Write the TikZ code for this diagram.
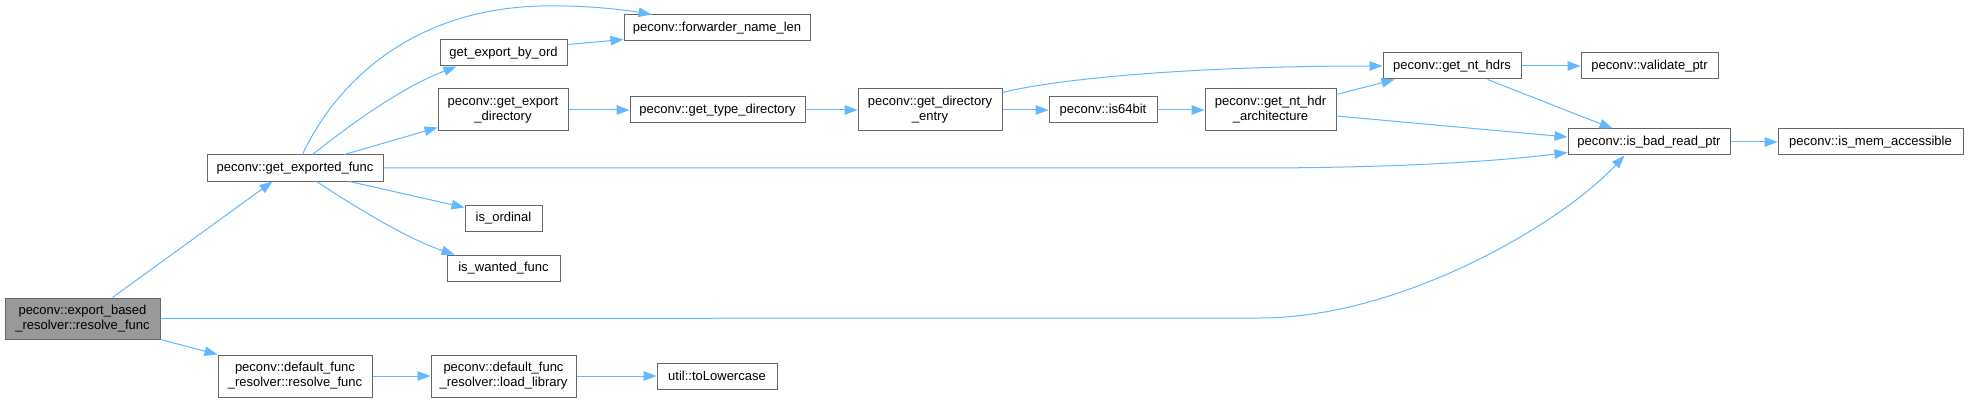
\documentclass[tikz,border=0pt]{standalone}
\usepackage{fontspec}
\setmainfont{Liberation Sans}
\usetikzlibrary{arrows.meta,calc}
\definecolor{edgeblue}{HTML}{63B8FF}
\definecolor{boxgray}{HTML}{666666}
\definecolor{fillgray}{HTML}{999999}
\begin{document}
\begin{tikzpicture}[x=1pt,y=-1pt,
  box/.style={draw=boxgray,fill=white,line width=1pt,inner sep=0pt,align=center,font=\fontsize{13}{15}\selectfont},
  edge/.style={draw=edgeblue,line width=1pt,-{Triangle[length=13pt,width=9.5pt]}}]
\useasboundingbox (0,0) rectangle (1968,401);
\fill[white] (0,0) rectangle (1968,401);
% nodes
\node[box,fill=fillgray,minimum width=155pt,minimum height=41pt] (A) at (82.5,318.5) {peconv::export\_based\\\_resolver::resolve\_func};
\node[box,minimum width=176pt,minimum height=26pt] (B) at (295,168) {peconv::get\_exported\_func};
\node[box,minimum width=186pt,minimum height=26pt] (C) at (717,28) {peconv::forwarder\_name\_len};
\node[box,minimum width=127pt,minimum height=26pt] (D) at (503.5,53) {get\_export\_by\_ord};
\node[box,minimum width=130pt,minimum height=42pt] (E) at (503,110) {peconv::get\_export\\\_directory};
\node[box,minimum width=175pt,minimum height=26pt] (F) at (717.5,110) {peconv::get\_type\_directory};
\node[box,minimum width=144pt,minimum height=42pt] (G) at (930,110) {peconv::get\_directory\\\_entry};
\node[box,minimum width=108pt,minimum height=26pt] (H) at (1103,110) {peconv::is64bit};
\node[box,minimum width=131pt,minimum height=42pt] (I) at (1270.5,110) {peconv::get\_nt\_hdr\\\_architecture};
\node[box,minimum width=138pt,minimum height=26pt] (J) at (1452,66) {peconv::get\_nt\_hdrs};
\node[box,minimum width=137pt,minimum height=26pt] (K) at (1649.5,66) {peconv::validate\_ptr};
\node[box,minimum width=162pt,minimum height=26pt] (L) at (1649,142) {peconv::is\_bad\_read\_ptr};
\node[box,minimum width=185pt,minimum height=26pt] (M) at (1870.5,142) {peconv::is\_mem\_accessible};
\node[box,minimum width=77pt,minimum height=26pt] (N) at (503.5,218) {is\_ordinal};
\node[box,minimum width=113pt,minimum height=26pt] (O) at (503.5,268) {is\_wanted\_func};
\node[box,minimum width=154pt,minimum height=42pt] (P) at (295,376) {peconv::default\_func\\\_resolver::resolve\_func};
\node[box,minimum width=145pt,minimum height=42pt] (Q) at (503.5,376) {peconv::default\_func\\\_resolver::load\_library};
\node[box,minimum width=120pt,minimum height=26pt] (R) at (717,376) {util::toLowercase};
% edges
\draw[edge] ($(A.north west)+(108,0)$) -- ($(B.south west)+(66,0)$);
\draw[edge] (A.south east) -- (P.north west);
\draw[edge] (A.east) -- (1260,318) .. controls (1400,318) and (1560,225) .. ($(L.south west)+(57,0)$);
\draw[edge] ($(B.north west)+(96,0)$) .. controls (330,95) and (400,10) .. (540,6) .. controls (580,5) and (620,9) .. ($(C.north west)+(28,0)$);
\draw[edge] ($(B.north west)+(106,0)$) .. controls (350,125) and (400,88) .. ($(D.south west)+(17,0)$);
\draw[edge] ($(B.north west)+(138,0)$) -- ($(E.south west)+(0,-4)$);
\draw[edge] (B.east) -- (1250,168) .. controls (1400,168) and (1500,161) .. ($(L.south west)+(0,-3)$);
\draw[edge] ($(B.south west)+(143,0)$) -- ($(N.north west)+(0,3)$);
\draw[edge] ($(B.south west)+(110,0)$) .. controls (360,210) and (410,240) .. ($(O.north west)+(8,0)$);
\draw[edge] ($(D.north east)+(0,5)$) -- ($(C.south west)+(0,-2)$);
\draw[edge] (E.east) -- (F.west);
\draw[edge] (F.east) -- (G.west);
\draw[edge] (G.east) -- (H.west);
\draw[edge] (H.east) -- (I.west);
\draw[edge] ($(G.north east)+(0,4)$) .. controls (1060,78) and (1200,66) .. (J.west);
\draw[edge] ($(I.north east)+(0,6)$) -- ($(J.south west)+(12,0)$);
\draw[edge] ($(I.east)+(0,6)$) -- ($(L.west)+(0,-5)$);
\draw[edge] (J.east) -- (K.west);
\draw[edge] ($(J.south west)+(105,0)$) -- ($(L.north west)+(45,0)$);
\draw[edge] (L.east) -- (M.west);
\draw[edge] (P.east) -- (Q.west);
\draw[edge] (Q.east) -- (R.west);
\end{tikzpicture}
\end{document}
